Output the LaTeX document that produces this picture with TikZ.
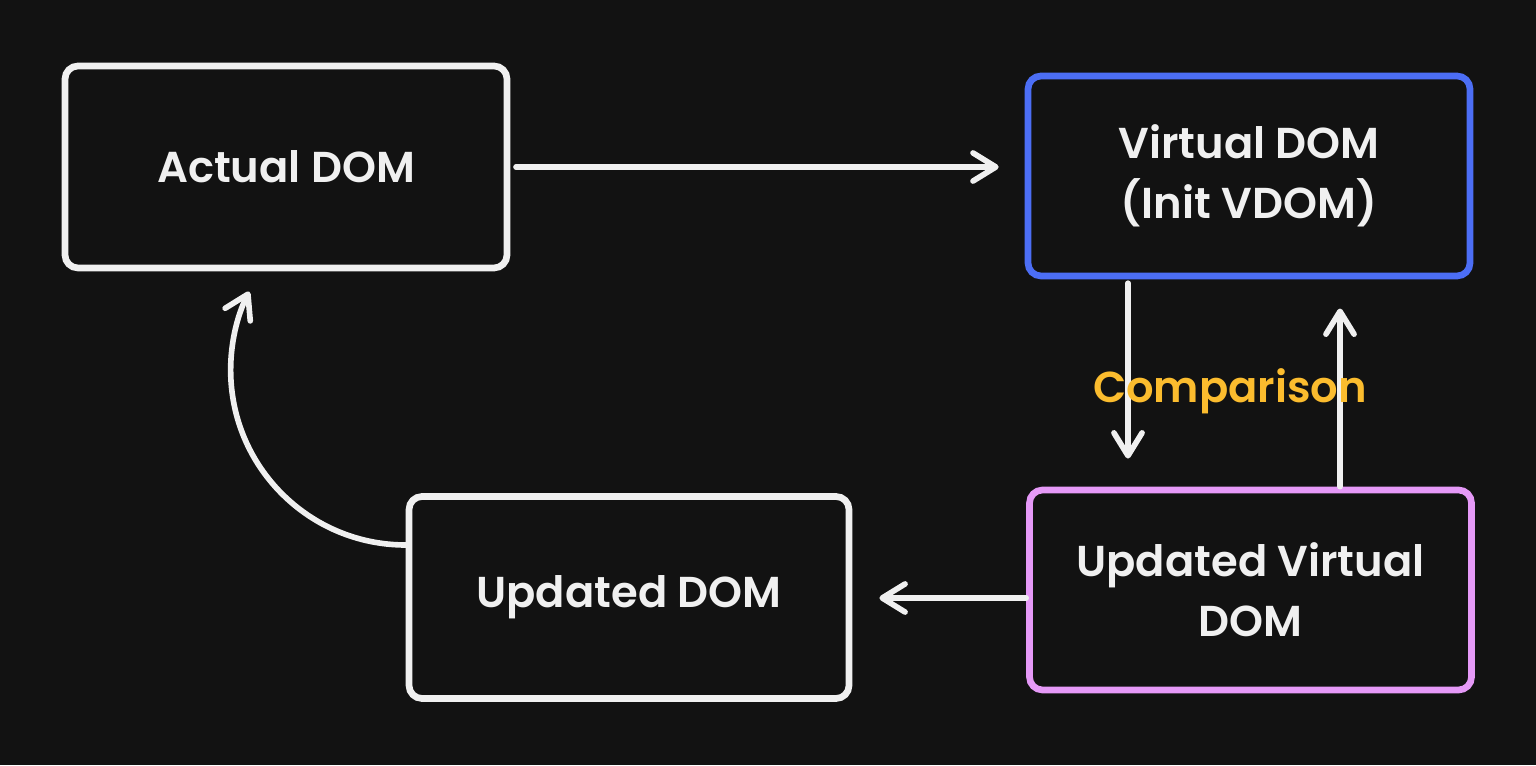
\documentclass[tikz,border=0pt]{standalone}
\usepackage{fontspec}
\setmainfont{Poppins}[UprightFont={* SemiBold}]
\usetikzlibrary{arrows.meta,positioning}
\definecolor{canvas}{HTML}{121212}
\definecolor{chalk}{HTML}{F0F0F0}
\definecolor{vblue}{HTML}{4C6EF5}
\definecolor{vviolet}{HTML}{E599F7}
\definecolor{cmpyellow}{HTML}{FBBC2E}

\begin{document}
\begin{tikzpicture}[font=\fontsize{12.3}{17}\selectfont,
    box/.style={draw=chalk,line width=1.9pt,rounded corners=0.13cm,
      minimum width=4.42cm,minimum height=2.02cm,text=chalk,align=center,inner sep=0pt},
    flow/.style={draw=chalk,line width=1.6pt,line cap=round,
      -{Straight Barb[length=6.5pt,width=8pt,line cap=round,line join=round]}}]
  % canvas
  \fill[canvas] (0,0) rectangle (15.36,7.65);
  \useasboundingbox (0,0) rectangle (15.36,7.65);
  % the four stages
  \node[box] (actual) at (2.86,5.98) {Actual DOM};
  \node[box,draw=vblue,minimum height=2.0cm] (vdom) at (12.49,5.89)
       {Virtual DOM\\(Init VDOM)};
  \node[box,draw=vviolet,minimum height=2.0cm] (uvdom) at (12.505,1.75)
       {Updated Virtual\\DOM};
  \node[box,minimum width=4.4cm] (udom) at (6.29,1.675) {Updated DOM};
  % connectors
  \draw[flow,shorten <=1.6pt,shorten >=7.4pt] (actual.east) -- (actual.east -| vdom.west);
  \draw[flow,shorten <=1.1pt,shorten >=8pt]
       ([xshift=-1.21cm]vdom.south) -- ([xshift=-1.21cm]vdom.south |- uvdom.north);
  \draw[flow,shorten >=8.3pt]
       ([xshift=0.895cm]uvdom.north) -- ([xshift=0.895cm]uvdom.north |- vdom.south);
  \draw[flow,shorten >=7.7pt]
       ([yshift=-0.08cm]uvdom.west) -- ([yshift=-0.08cm]uvdom.west -| udom.east);
  \draw[flow] ([yshift=0.525cm]udom.west) arc[start angle=-90,end angle=-206.6,radius=1.75cm];
  % label between the two vertical arrows
  \node[text=cmpyellow] (cmp) at (12.30,3.74) {Comparison};
\end{tikzpicture}
\end{document}
